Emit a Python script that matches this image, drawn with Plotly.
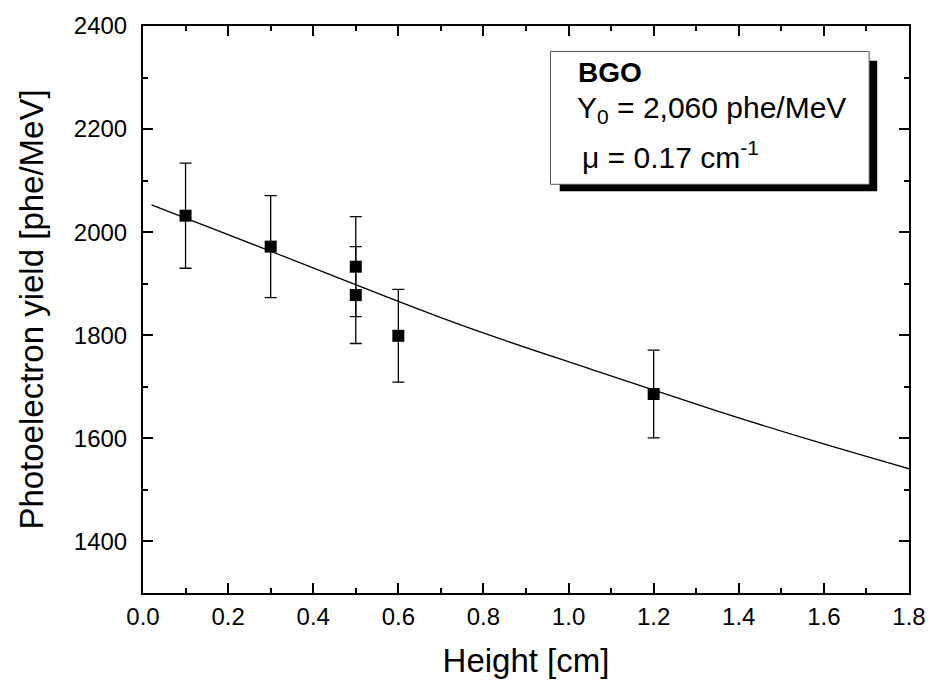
import plotly.graph_objects as go

# Measured data
height_cm = [0.1, 0.3, 0.5, 0.5, 0.6, 1.2]
yield_phe = [2032, 1972, 1933, 1878, 1799, 1686]
yield_err = [102, 99, 97, 94, 90, 85]

# Fit curve
fit_x = [0.02, 0.3, 0.74, 1.06, 1.35, 1.58, 1.8]
fit_y = [2053, 1963, 1822, 1732, 1653, 1594, 1541]

FONT = "Liberation Sans, Arial, sans-serif"

fig = go.Figure()
fig.add_trace(go.Scatter(
    x=fit_x, y=fit_y, mode="lines",
    line=dict(color="black", width=1.3, shape="spline"),
    hoverinfo="skip", showlegend=False,
))
fig.add_trace(go.Scatter(
    x=height_cm, y=yield_phe, mode="markers",
    marker=dict(symbol="square", size=12, color="black"),
    error_y=dict(type="data", array=yield_err, visible=True,
                 color="black", thickness=1.3, width=6),
    showlegend=False,
))

axis_common = dict(
    showline=True, linecolor="black", linewidth=2, mirror="allticks",
    ticks="inside", ticklen=10, tickwidth=2, tickcolor="black",
    showgrid=False, zeroline=False,
    tickfont=dict(family=FONT, size=24, color="black"),
)

fig.update_xaxes(
    range=[0, 1.8], dtick=0.2, tick0=0, tickformat=".1f",
    ticklabelstandoff=1,
    minor=dict(ticks="inside", ticklen=5, tickwidth=2, dtick=0.1, tickcolor="black"),
    title=dict(text="Height [cm]", font=dict(family=FONT, size=33, color="black"), standoff=20),
    **axis_common,
)
fig.update_yaxes(
    range=[1300, 2400], dtick=200, tick0=1400,
    ticklabelstandoff=9,
    minor=dict(ticks="inside", ticklen=5, tickwidth=2, dtick=100, tickcolor="black"),
    title=dict(text="Photoelectron yield [phe/MeV]", font=dict(family=FONT, size=33, color="black"), standoff=20),
    **axis_common,
)

# Label box with drop shadow
fig.add_shape(type="rect", xref="paper", yref="paper",
              x0=0.544, x1=0.9585, y0=0.7086, y1=0.9389,
              fillcolor="black", line=dict(width=0), layer="above")
fig.add_shape(type="rect", xref="paper", yref="paper",
              x0=0.532, x1=0.948, y0=0.7208, y1=0.9551,
              fillcolor="white", line=dict(color="#555555", width=1), layer="above")

fig.add_annotation(xref="paper", yref="paper", x=0.5648, y=0.918,
                   xanchor="left", yanchor="middle", showarrow=False,
                   text="<b>BGO</b>", font=dict(family=FONT, size=28, color="black"))
fig.add_annotation(xref="paper", yref="paper", x=0.5635, y=0.852,
                   xanchor="left", yanchor="middle", showarrow=False,
                   text="Y<sub>0</sub> = 2,060 phe/MeV", font=dict(family=FONT, size=30, color="black"))
fig.add_annotation(xref="paper", yref="paper", x=0.570, y=0.773,
                   xanchor="left", yanchor="middle", showarrow=False,
                   text="μ = 0.17 cm<sup>-1</sup>", font=dict(family=FONT, size=30, color="black"))

fig.update_layout(
    width=938, height=689,
    margin=dict(l=143, r=23, t=20, b=96),
    paper_bgcolor="white", plot_bgcolor="white",
    font=dict(family=FONT, color="black"),
)

fig.write_html("out.html")
